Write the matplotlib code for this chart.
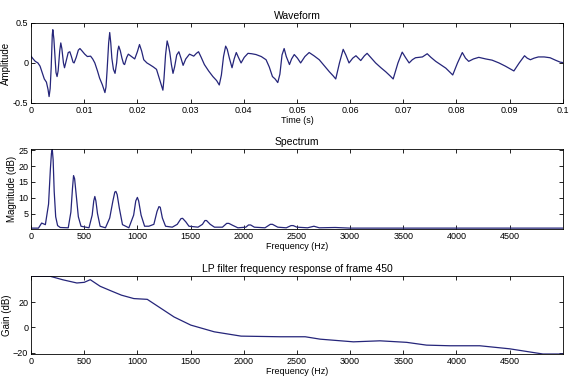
import numpy as np
import matplotlib
matplotlib.use('Agg')
import matplotlib.pyplot as plt

# waveform (time in s, amplitude)
wave_t = [0.0, 0.0004, 0.0008, 0.0013, 0.0017, 0.0021, 0.0025, 0.0029, 0.0032, 0.0034,
          0.0036, 0.0038, 0.0040, 0.0041, 0.0043, 0.0045, 0.0047, 0.0049, 0.0051, 0.0054,
          0.0056, 0.0058, 0.0061, 0.0063, 0.0066, 0.0070, 0.0073, 0.0076, 0.0079, 0.0081,
          0.0085, 0.0089, 0.0092, 0.0096, 0.0101, 0.0106, 0.0112, 0.0116, 0.0120, 0.0125,
          0.0129, 0.0134, 0.0139, 0.0141, 0.0143, 0.0146, 0.0148, 0.0150, 0.0152, 0.0155,
          0.0158, 0.0161, 0.0163, 0.0165, 0.0168, 0.0171, 0.0174, 0.0176, 0.0180, 0.0183,
          0.0189, 0.0195, 0.0200, 0.0204, 0.0208, 0.0212, 0.0218, 0.0223, 0.0230, 0.0236,
          0.0242, 0.0246, 0.0248, 0.0250, 0.0253, 0.0256, 0.0259, 0.0261, 0.0264, 0.0267,
          0.0270, 0.0274, 0.0278, 0.0282, 0.0286, 0.0291, 0.0298, 0.0306, 0.0311, 0.0315,
          0.0320, 0.0326, 0.0334, 0.0342, 0.0349, 0.0354, 0.0358, 0.0362, 0.0366, 0.0369,
          0.0373, 0.0378, 0.0382, 0.0386, 0.0390, 0.0395, 0.0401, 0.0408, 0.0415, 0.0423,
          0.0433, 0.0442, 0.0448, 0.0454, 0.0459, 0.0464, 0.0468, 0.0472, 0.0476, 0.0480,
          0.0486, 0.0490, 0.0495, 0.0501, 0.0507, 0.0515, 0.0523, 0.0532, 0.0542, 0.0552,
          0.0561, 0.0568, 0.0573, 0.0580, 0.0587, 0.0592, 0.0598, 0.0605, 0.0611, 0.0620,
          0.0627, 0.0632, 0.0640, 0.0648, 0.0658, 0.0667, 0.0675, 0.0681, 0.0690, 0.0698,
          0.0704, 0.0711, 0.0717, 0.0723, 0.0736, 0.0745, 0.0752, 0.0761, 0.0770, 0.0780,
          0.0787, 0.0793, 0.0802, 0.0811, 0.0817, 0.0823, 0.0832, 0.0842, 0.0855, 0.0867,
          0.0880, 0.0892, 0.0900, 0.0908, 0.0918, 0.0928, 0.0933, 0.0939, 0.0946, 0.0954,
          0.0965, 0.0976, 0.0986, 0.0995, 0.1]
wave_a = [0.085, 0.05, 0.02, 0.0, -0.04, -0.12, -0.2, -0.24, -0.33, -0.42,
          -0.32, -0.05, 0.35, 0.415, 0.3, 0.1, -0.12, -0.17, -0.1, 0.15,
          0.25, 0.18, 0.0, -0.06, 0.02, 0.13, 0.14, 0.08, 0.01, 0.0,
          0.07, 0.16, 0.18, 0.15, 0.11, 0.08, 0.085, 0.05, 0.0, -0.1,
          -0.19, -0.27, -0.37, -0.3, -0.1, 0.25, 0.38, 0.25, 0.06, -0.08,
          -0.13, 0.0, 0.15, 0.21, 0.15, 0.06, -0.01, -0.02, 0.07, 0.11,
          0.08, 0.05, 0.14, 0.23, 0.15, 0.04, 0.0, -0.02, -0.05, -0.08,
          -0.21, -0.3, -0.34, -0.2, 0.1, 0.275, 0.2, 0.13, -0.02, -0.13,
          -0.05, 0.1, 0.14, 0.06, -0.03, 0.05, 0.11, 0.085, 0.12, 0.14,
          0.07, -0.02, -0.1, -0.17, -0.22, -0.275, -0.15, 0.08, 0.21, 0.17,
          0.06, -0.06, 0.05, 0.13, 0.07, 0.0, 0.07, 0.12, 0.115, 0.105,
          0.08, 0.04, -0.05, -0.17, -0.2, -0.245, -0.14, 0.1, 0.18, 0.08,
          -0.02, 0.05, 0.105, 0.06, 0.0, 0.08, 0.13, 0.09, 0.04, -0.04,
          -0.11, -0.16, -0.2, 0.0, 0.17, 0.1, 0.0, 0.06, 0.09, 0.03,
          0.09, 0.12, 0.06, 0.0, -0.06, -0.11, -0.16, -0.2, 0.0, 0.135,
          0.07, 0.0, 0.04, 0.065, 0.075, 0.115, 0.07, 0.02, -0.02, -0.065,
          -0.11, -0.15, 0.0, 0.13, 0.06, 0.02, 0.05, 0.07, 0.05, 0.035,
          0.0, -0.04, -0.07, -0.1, 0.0, 0.09, 0.06, 0.04, 0.06, 0.075,
          0.075, 0.065, 0.035, 0.01, 0.005]

# spectrum (Hz, magnitude)
spec_f = [0, 70, 100, 135, 165, 182, 192, 200, 208, 218, 232, 250, 275, 350, 375, 390,
          400, 410, 425, 445, 470, 545, 575, 590, 600, 610, 625, 650, 700, 740, 770, 788,
          798, 810, 830, 860, 920, 965, 985, 1000, 1012, 1035, 1068, 1108, 1155, 1185,
          1203, 1215, 1235, 1265, 1328, 1375, 1410, 1425, 1455, 1485, 1570, 1612, 1635,
          1650, 1685, 1725, 1800, 1840, 1860, 1895, 1945, 2020, 2045, 2065, 2100, 2200,
          2250, 2270, 2320, 2400, 2445, 2465, 2500, 2600, 2660, 2710, 2860, 3000, 5000]
spec_m = [0.4, 0.4, 2.0, 1.5, 8, 19, 24, 25.3, 22, 12, 4, 1.2, 0.6, 0.5, 5.5, 13,
          17, 16, 10.9, 4, 1.0, 0.5, 4.5, 9, 10.4, 9, 5, 1.0, 0.5, 3.6, 9, 11.8,
          12, 11, 6.8, 1.5, 0.5, 4.5, 9, 10.1, 9, 4.5, 1.0, 1.0, 1.6, 5.7,
          7.2, 7.0, 3.6, 1.0, 0.7, 1.6, 3.4, 3.5, 2.4, 1.0, 0.7, 1.6, 2.8,
          2.8, 1.6, 0.7, 0.7, 1.9, 1.9, 1.3, 0.5, 0.7, 1.4, 1.4, 0.7, 0.5,
          1.6, 1.6, 0.7, 0.5, 1.2, 1.2, 0.7, 0.5, 1.0, 0.5, 0.6, 0.4, 0.4]

# LP filter response (Hz, gain dB)
lp_f = [0, 180, 300, 431, 500, 557, 650, 746, 850, 967, 1093, 1200, 1345, 1502, 1723,
        1975, 2344, 2578, 2719, 3031, 3281, 3531, 3719, 3938, 4219, 4500, 4813, 5000]
lp_g = [40.3, 40.3, 37.5, 35.0, 35.5, 37.6, 32.4, 29.0, 25.4, 22.7, 22.1, 16.2, 8.2, 1.8, -3.5,
        -6.9, -7.4, -7.4, -9.3, -11.4, -10.6, -11.8, -14.0, -14.5, -14.5, -16.9, -21.0, -21.0]

line_col = '#25257a'
plt.rcParams['font.family'] = ['Liberation Sans', 'DejaVu Sans']
plt.rcParams['xtick.direction'] = 'in'
plt.rcParams['ytick.direction'] = 'in'
plt.rcParams['xtick.top'] = True
plt.rcParams['ytick.right'] = True

fig = plt.figure(figsize=(5.7, 3.85), dpi=100)
ax1 = fig.add_axes([0.0544, 0.7325, 0.933, 0.208])
ax2 = fig.add_axes([0.0544, 0.405, 0.933, 0.208])
ax3 = fig.add_axes([0.0544, 0.0805, 0.933, 0.2026])

ax1.plot(wave_t, wave_a, color=line_col, lw=0.9)
ax1.set_xlim(0, 0.1)
ax1.set_ylim(-0.5, 0.5)
ax1.set_xticks(np.arange(0, 0.101, 0.01))
ax1.set_xticklabels(['0', '0.01', '0.02', '0.03', '0.04', '0.05', '0.06', '0.07', '0.08', '0.09', '0.1'])
ax1.set_yticks([-0.5, 0, 0.5])
ax1.set_yticklabels(['-0.5', '0', '0.5'])
ax1.set_title('Waveform', fontsize=7.5, pad=3)
ax1.set_xlabel('Time (s)', fontsize=6.5, labelpad=1)
ax1.set_ylabel('Amplitude', fontsize=7, labelpad=1)

ax2.plot(spec_f, spec_m, color=line_col, lw=0.9)
ax2.set_xlim(0, 5000)
ax2.set_ylim(0.1, 25.4)
ax2.set_xticks(range(0, 5000, 500))
ax2.set_yticks([5, 10, 15, 20, 25])
ax2.set_title('Spectrum', fontsize=7.5, pad=3)
ax2.set_xlabel('Frequency (Hz)', fontsize=6.5, labelpad=1)
ax2.set_ylabel('Magnitude (dB)', fontsize=7, labelpad=1)

ax3.plot(lp_f, lp_g, color=line_col, lw=0.9)
ax3.set_xlim(0, 5000)
ax3.set_ylim(-21, 40.5)
ax3.set_xticks(range(0, 5000, 500))
ax3.set_yticks([-20, 0, 20])
ax3.set_title('LP filter frequency response of frame 450', fontsize=7.5, pad=3)
ax3.set_xlabel('Frequency (Hz)', fontsize=6.5, labelpad=1)
ax3.set_ylabel('Gain (dB)', fontsize=7, labelpad=1)

for ax in (ax1, ax2, ax3):
    ax.tick_params(labelsize=6.5, length=3, width=0.6, pad=2)
    for s in ax.spines.values():
        s.set_linewidth(0.6)

fig.savefig('out.png', dpi=100)
